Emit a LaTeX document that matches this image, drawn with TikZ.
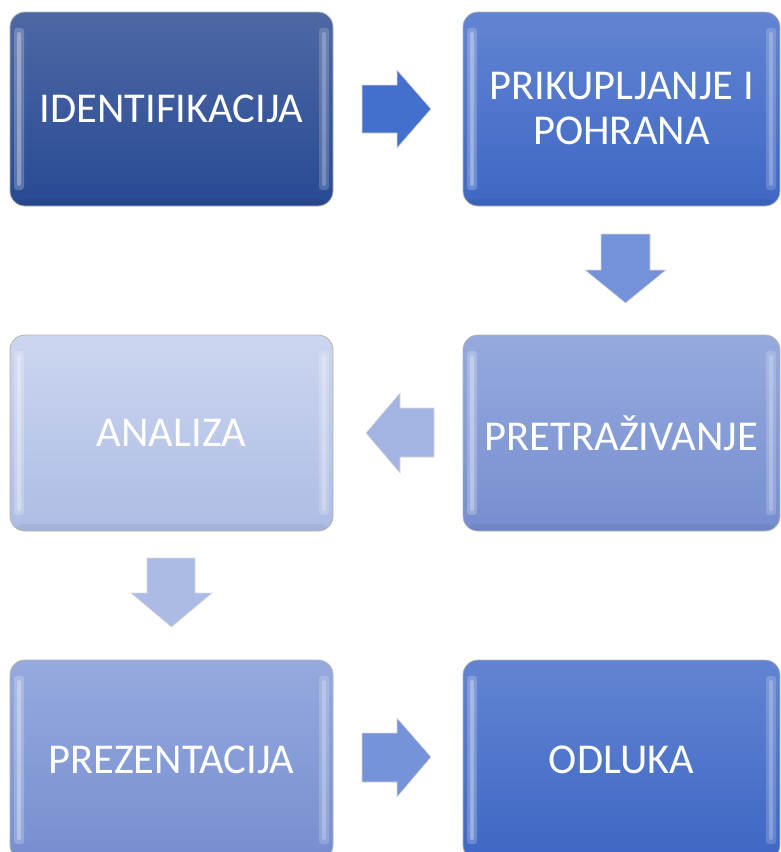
\documentclass[tikz,border=0pt]{standalone}
\usepackage{fontspec}
\setmainfont{Carlito}
\begin{document}
\begin{tikzpicture}[x=1pt,y=-1pt,
  gbox/.style={rounded corners=15pt, minimum width=#1, minimum height=194pt,
    inner sep=0pt, align=center, text=white, font=\fontsize{42.5}{45}\selectfont,
    draw=black!30, line width=0.8pt,
    path picture={
      \fill[white,opacity=0.22,rounded corners=3pt]
        ([xshift=4pt,yshift=-16pt]path picture bounding box.north west) rectangle
        ([xshift=14pt,yshift=16pt]path picture bounding box.south west);
      \fill[white,opacity=0.3,rounded corners=2pt]
        ([xshift=7pt,yshift=-20pt]path picture bounding box.north west) rectangle
        ([xshift=11pt,yshift=20pt]path picture bounding box.south west);
      \fill[white,opacity=0.18,rounded corners=3pt]
        ([xshift=-4pt,yshift=-16pt]path picture bounding box.north east) rectangle
        ([xshift=-14pt,yshift=16pt]path picture bounding box.south east);
      \fill[white,opacity=0.22,rounded corners=2pt]
        ([xshift=-7pt,yshift=-20pt]path picture bounding box.north east) rectangle
        ([xshift=-11pt,yshift=20pt]path picture bounding box.south east);
      \fill[black,opacity=0.05]
        ([yshift=7pt]path picture bounding box.south west) rectangle
        (path picture bounding box.south east);
    }},
  garrow/.style={draw=white!70!gray, line width=0.6pt, line join=miter}
]
\definecolor{c1t}{RGB}{78,104,164}\definecolor{c1b}{RGB}{40,74,148}
\definecolor{c2t}{RGB}{98,132,210}\definecolor{c2b}{RGB}{62,103,196}
\definecolor{c3t}{RGB}{150,170,222}\definecolor{c3b}{RGB}{118,142,208}
\definecolor{c4t}{RGB}{204,214,240}\definecolor{c4b}{RGB}{174,188,228}
\definecolor{c6t}{RGB}{98,132,210}\definecolor{c6b}{RGB}{62,103,196}
\definecolor{a1}{RGB}{66,112,204}
\definecolor{a2}{RGB}{116,146,218}
\definecolor{a3}{RGB}{164,180,226}
\definecolor{a4}{RGB}{172,186,230}
\definecolor{a5}{RGB}{118,146,216}

\useasboundingbox (0,0) rectangle (781,852);
\clip (0,0) rectangle (781,852);

\node[gbox=323pt, top color=c1t, bottom color=c1b] (ident) at (171.5,109) {IDENTIFIKACIJA};
\node[gbox=317pt, top color=c2t, bottom color=c2b] (prik) at (621.5,109) {PRIKUPLJANJE I\\POHRANA};
\node[gbox=317pt, top color=c3t, bottom color=c3b, minimum height=196pt] (pret) at (621.5,433) {PRETRAŽIVANJE};
\node[gbox=323pt, top color=c4t, bottom color=c4b, minimum height=196pt] (anal) at (171.5,433) {ANALIZA};
\node[gbox=323pt, top color=c3t, bottom color=c3b, minimum height=200pt] (prez) at (171.5,760) {PREZENTACIJA};
\node[gbox=317pt, top color=c6t, bottom color=c6b, minimum height=200pt] (odl) at (621.5,760) {ODLUKA};

% arrows
\fill[garrow, fill=a1] (362,85) -- (397,85) -- (397,70) -- (431,109) -- (397,148) -- (397,133) -- (362,133) -- cycle;
\fill[garrow, fill=a2] (601,234) -- (650,234) -- (650,270) -- (666,270) -- (625.5,303) -- (585,270) -- (601,270) -- cycle;
\fill[garrow, fill=a3] (434,408) -- (400,408) -- (400,393) -- (366,433) -- (400,473) -- (400,457) -- (434,457) -- cycle;
\fill[garrow, fill=a4] (147,558) -- (195,558) -- (195,593) -- (212,593) -- (171.5,627) -- (131,593) -- (147,593) -- cycle;
\fill[garrow, fill=a5] (362,733) -- (397,733) -- (397,718) -- (431,757) -- (397,797) -- (397,782) -- (362,782) -- cycle;
\end{tikzpicture}
\end{document}
